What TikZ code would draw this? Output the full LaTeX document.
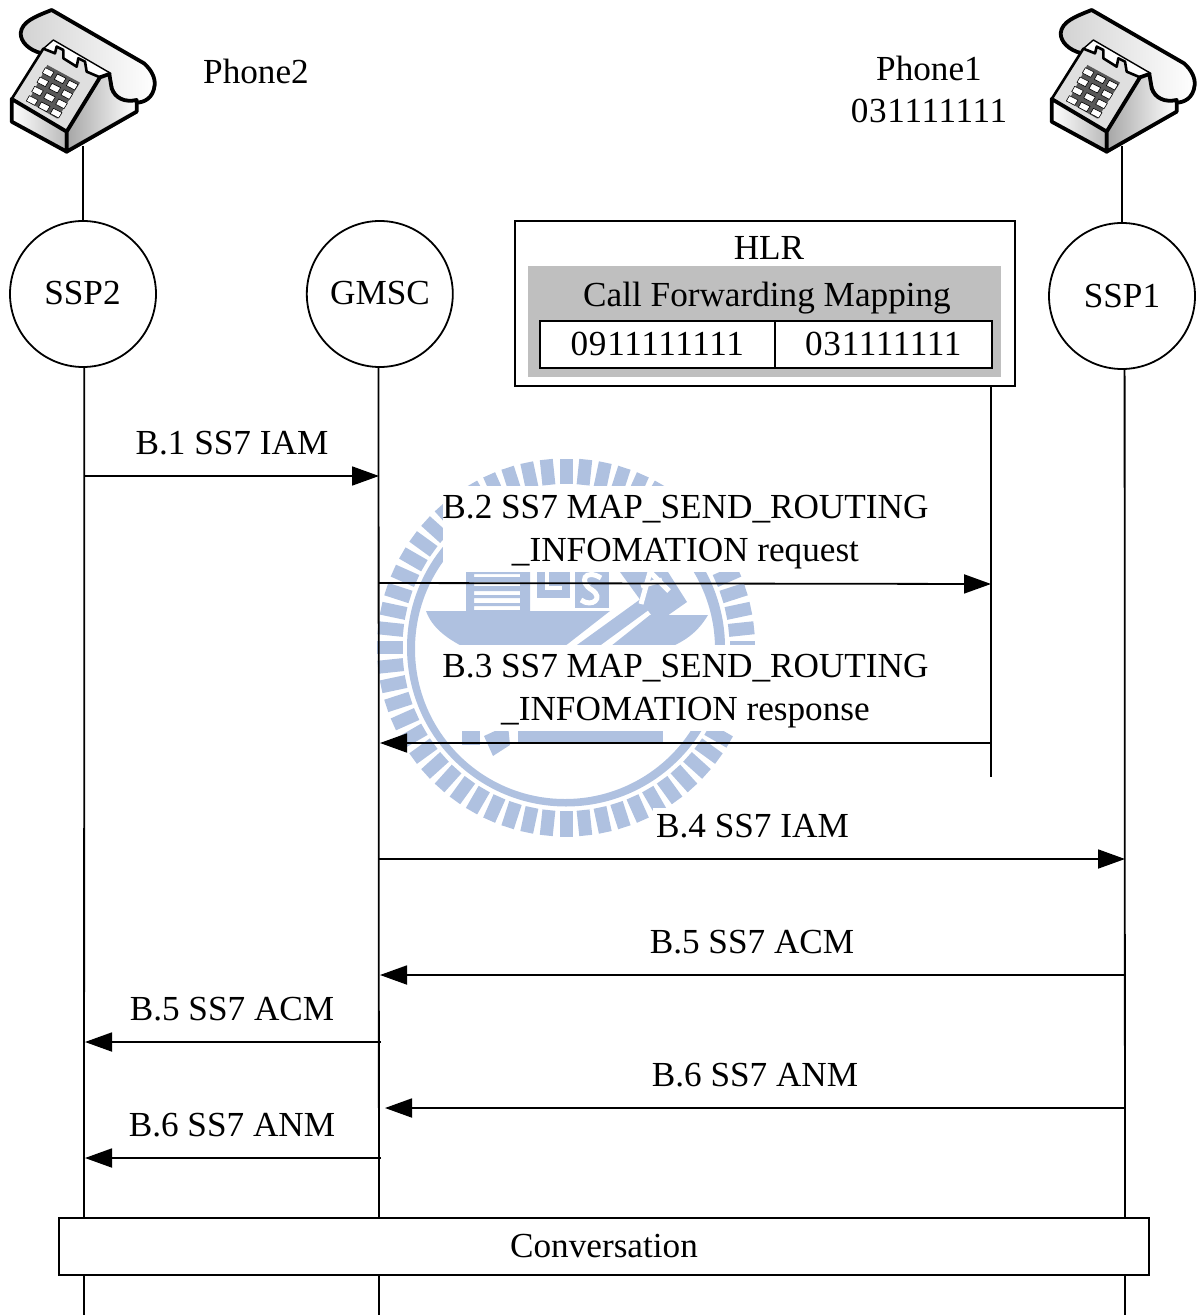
\documentclass[tikz,border=0pt]{standalone}
\usepackage{fontspec}
\setmainfont{Liberation Serif}
\newfontfamily\digitfont[LetterSpace=2]{Liberation Serif}
\usetikzlibrary{arrows.meta, positioning}
\definecolor{logoblue}{HTML}{AFC1E0}
\definecolor{mapgray}{HTML}{BFBFBF}

\begin{document}
\begin{tikzpicture}[
  x=0.5pt, y=-0.5pt, line width=0.9pt,
  every node/.style={font=\fontsize{17.6}{21.4}\selectfont},
  hub/.style={circle, draw, fill=white, minimum size=73pt, inner sep=0pt},
  box/.style={rectangle, draw, minimum height=#1, inner sep=0pt},
  msg/.style={inner sep=0pt, align=center},
  arrow/.style={-{Triangle[length=13.5pt,width=9.5pt]}},
  phone/.pic={
    \begin{scope}[scale=1/3, line join=round]
    \draw[line width=1.9pt, left color=gray!35, right color=white]
      (125,160) .. controls (85,150) and (62,125) .. (62,100)
      .. controls (65,65) and (105,50) .. (155,30) -- (432,190)
      .. controls (455,210) and (466,235) .. (464,255)
      .. controls (460,295) and (432,308) .. (408,308)
      .. controls (375,308) and (345,295) .. (335,265) -- (325,220) -- cycle;
    \draw[line width=.7pt, fill=white] (130,146) -- (160,120) -- (332,220) -- (300,240) -- cycle;
    \draw[line width=1.3pt, fill=gray!25] (35,297) -- (130,146) -- (165,160) -- (170,140) -- (190,150) -- (190,175)
      -- (230,200) -- (235,175) -- (255,185) -- (260,215) -- (300,232) -- (200,395) -- cycle;
    \draw[line width=1.9pt, left color=white, right color=gray!55] (35,297) -- (200,395) -- (200,455) -- (35,365) -- cycle;
    \draw[line width=1.9pt, left color=gray!70, right color=white] (200,395) -- (300,232) -- (328,222) -- (335,265)
      .. controls (345,295) and (375,308) .. (410,300) -- (410,335) -- (200,455) -- cycle;
    \fill[gray!70!black] (142,195) -- (240,248) -- (172,356) -- (84,305) -- cycle;
    \foreach \r in {0,1,2,3}
      \foreach \c in {0,1,2}
        \draw[line width=.3pt, fill=white, shift={(148+\c*36-\r*16,212+\c*19+\r*28)}]
          (-12,-9) -- (14,4) -- (4,20) -- (-21,7) -- cycle;
    \end{scope}
  },
]
\useasboundingbox (0,0) rectangle (1200,1315);

% watermark
\begin{scope}[logoblue]
\foreach \a in {0,6,...,354}
  \fill[rotate around={\a:(566,647.5)}] (559.5,811) rectangle (572.5,836.5);
\fill[even odd rule] (566,647.5) circle[radius=79.5pt] (565,649) circle[radius=75pt];
\fill[even odd rule] (426,611) -- (466,611) -- (466,572) -- (530,572) -- (530,611) -- (610,611) -- (560,650) -- (470,650)
  .. controls (448,640) and (432,628) .. cycle
  (474,574) rectangle (520,577) (474,582) rectangle (520,586) (474,591) rectangle (520,595)
  (474,598) rectangle (520,603) (474,606) rectangle (520,610);
\fill (537,572) rectangle (570,598);
\fill (575,572) rectangle (609,608);
\fill (642,598) -- (650,609) -- (594,650) -- (570,650) -- cycle;
\fill (650,615) -- (708,615) .. controls (698,632) and (685,642) .. (663,650) -- (606,650) -- cycle;
\fill (620,572) -- (668,572) -- (687,602) -- (657,623) -- cycle;
\fill (462,731) rectangle (480,745);
\fill (484,736) -- (508,725) -- (510,745) -- (493,756) -- cycle;
\fill (518,731) rectangle (663,744);
\end{scope}
\draw[white, line width=2pt] (547,572) -- (547,588) -- (562,588);
\draw[white, line width=2.5pt] (601,578) .. controls (585,568) and (578,582) .. (592,590) .. controls (604,598) and (592,608) .. (581,600);
\draw[white, line width=2.5pt] (641,604) -- (650,572) -- (669,591) (641,586) -- (662,580);
\fill[white] (443,486) rectangle (928,572);
\fill[white] (443,645) rectangle (928,731);
\fill[white] (653,808) rectangle (852,843);

% nodes
\node[hub] (ssp2) at (83,294) {};
\node[hub, right=74.5pt of ssp2] (gmsc) {};
\node[hub] (ssp1) at (1122,296) {SSP1};
\node (ssp2name) at (82.5,293) {SSP2};
\node (gmscname) at (380,293) {GMSC};
\node (phone2) at (256,71) {Phone2};
\node[align=center, inner sep=0pt] (phone1) at (929,89.5) {Phone1\\{\digitfont 031111111}};
\node[box=82.5pt, minimum width=250pt] (hlr) at (765,303.5) {};
\node[box=55.5pt, minimum width=236.5pt, draw=none, fill=mapgray] (mapping) at (764.5,321.5) {};
\node (hlrname) at (769,248) {HLR};
\node (maptitle) at (767,298) {Call Forwarding Mapping};
\node[box=23.5pt, minimum width=117.5pt, fill=white, font=\fontsize{17.6}{21.4}\digitfont] (cella) at (657.3,344.3) {0911111111};
\node[box=23.5pt, minimum width=108.5pt, fill=white, font=\fontsize{17.6}{21.4}\digitfont, right=-0.9pt of cella] (cellb) {031111111};
\pic at (0,0) {phone};
\pic at (1040,0) {phone};
\coordinate (phone2base) at (83,146);
\coordinate (phone1base) at (1122,146);

% messages
\node[msg] (b1) at (232,443) {B.1 SS7 IAM};
\node[msg] (b2) at (685.5,532) {B.2 SS7 MAP\_SEND\_ROUTING\\\_INFOMATION request};
\node[msg] (b3) at (685.5,691) {B.3 SS7 MAP\_SEND\_ROUTING\\\_INFOMATION response};
\node[msg] (b4) at (752.5,826) {B.4 SS7 IAM};
\node[msg] (b5a) at (752,942) {B.5 SS7 ACM};
\node[msg] (b5b) at (232,1009) {B.5 SS7 ACM};
\node[msg] (b6a) at (755,1075) {B.6 SS7 ANM};
\node[msg] (b6b) at (232,1125) {B.6 SS7 ANM};

\coordinate (ssp2end) at (84,1315);
\coordinate (gmscend) at (379,1315);
\coordinate (ssp1end) at (1125,1315);
\coordinate (hlrline) at (991,386);
\coordinate (hlrend) at (991,777);

\draw (phone2base) -- (ssp2);
\draw (phone1base) -- (ssp1);
\draw (ssp2.-89) -- (ssp2end);
\draw (gmsc.-91) -- (gmscend);
\draw (ssp1.-88) -- (ssp1end);
\draw (hlrline) -- (hlrend);

\coordinate (m1a) at (84,476);      \coordinate (m1b) at (379,476);
\coordinate (m2a) at (379,583);     \coordinate (m2b) at (991,584);
\coordinate (m3a) at (991,743);     \coordinate (m3b) at (380,743);
\coordinate (m4a) at (379,859);     \coordinate (m4b) at (1125,859);
\coordinate (m5a) at (1125,975);    \coordinate (m5b) at (380,975);
\coordinate (m6a) at (381,1042);    \coordinate (m6b) at (85,1042);
\coordinate (m7a) at (1125,1108);   \coordinate (m7b) at (385,1108);
\coordinate (m8a) at (381,1158);    \coordinate (m8b) at (85,1158);

\draw[arrow] (m1a) -- (m1b);
\draw[arrow] (m2a) -- (m2b);
\draw[arrow] (m3a) -- (m3b);
\draw[arrow] (m4a) -- (m4b);
\draw[arrow] (m5a) -- (m5b);
\draw[arrow] (m6a) -- (m6b);
\draw[arrow] (m7a) -- (m7b);
\draw[arrow] (m8a) -- (m8b);

\node[box=28.5pt, minimum width=545pt, fill=white] (talk) at (604,1246.5) {Conversation};
\end{tikzpicture}
\end{document}
